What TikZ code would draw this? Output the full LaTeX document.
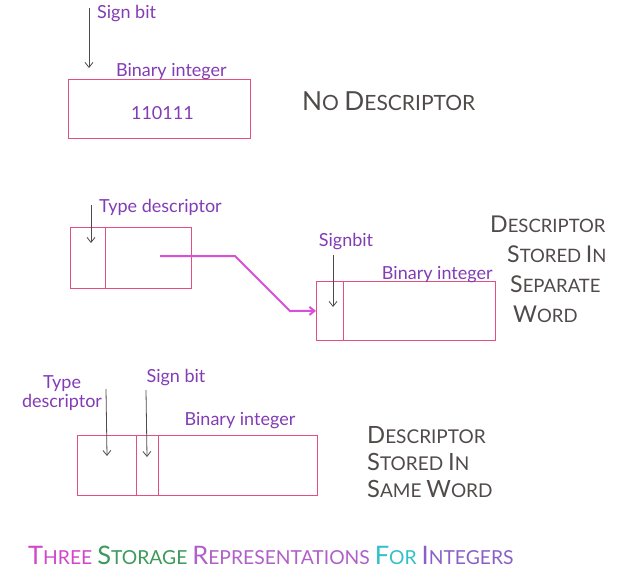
\documentclass[tikz,border=0pt]{standalone}
\usepackage{fontspec}
\setmainfont{Lato}
\usetikzlibrary{arrows.meta, positioning, calc}
\definecolor{boxpink}{RGB}{226, 80, 130}
\definecolor{penpurple}{RGB}{130, 60, 180}
\definecolor{pengray}{RGB}{80, 74, 74}
\definecolor{penmagenta}{RGB}{215, 80, 215}
\definecolor{titlemagenta}{RGB}{208, 72, 200}
\definecolor{titlegreen}{RGB}{60, 154, 90}
\definecolor{titlepurple}{RGB}{176, 96, 200}
\definecolor{titlecyan}{RGB}{48, 192, 200}
\definecolor{titleviolet}{RGB}{138, 96, 200}
\newcommand{\capword}[2]{\scalebox{1.25}{#1}#2}
\newcommand{\titleword}[2]{\scalebox{1.32}{#1}#2}

\begin{document}
\begin{tikzpicture}[x=1pt, y=-1pt,
    word/.style={draw=boxpink, line width=0.8pt, inner sep=0pt, anchor=north west},
    divider/.style={draw=boxpink, line width=0.8pt},
    lbl/.style={text=penpurple, font=\fontsize{18}{19}\selectfont, inner sep=1pt},
    note/.style={text=pengray, align=left, anchor=west, inner sep=0pt},
    ptr/.style={-{Straight Barb[length=5pt, width=8pt]}, draw=pengray, line width=0.8pt},
    link/.style={-{Straight Barb[length=5pt, width=8pt]}, draw=penmagenta, line width=2pt}
]
    \useasboundingbox (0,0) rectangle (618,581);

    % no descriptor
    \node[word, minimum width=182pt, minimum height=59pt] (plain) at (68,79) {};
    \node[text=penpurple, font=\fontsize{18}{18}\selectfont] (bits) at ($(plain.center)+(3,4)$) {110111};
    \node[lbl, above=-2pt of plain, xshift=12pt] (plainint) {Binary integer};
    \coordinate (plainsigntop) at (89,8);
    \coordinate (plainsignend) at (89,68);
    \draw[ptr] (plainsigntop) -- (plainsignend);
    \node[lbl, anchor=north west] (plainsign) at (96,4) {Sign bit};
    \node[note, font=\fontsize{21}{21}\selectfont] (nodesc) at (302,101) {\capword{N}{O} \capword{D}{ESCRIPTOR}};

    % descriptor in separate word
    \node[word, minimum width=121pt, minimum height=61pt] (descword) at (70,227) {};
    \draw[divider] ($(descword.north west)+(35,0)$) -- ($(descword.south west)+(35,0)$);
    \coordinate (desctypetop) at (91,205);
    \coordinate (desctypeend) at (91,243);
    \draw[ptr] (desctypetop) -- (desctypeend);
    \node[lbl, anchor=west] (desctype) at (98,207) {Type descriptor};

    \node[word, minimum width=179pt, minimum height=59pt] (valword) at (316,281) {};
    \draw[divider] ($(valword.north west)+(27,0)$) -- ($(valword.south west)+(27,0)$);
    \coordinate (valsigntop) at (333,255);
    \coordinate (valsignend) at (333,307);
    \draw[ptr] (valsigntop) -- (valsignend);
    \node[lbl] (valsign) at (346,242) {Signbit};
    \node[lbl, anchor=south east] (valint) at ($(valword.north east)+(-2,3)$) {Binary integer};

    \coordinate (linkstart) at (160,256);
    \draw[link] (linkstart) -- ++(75,0) -- ++(55,55) -- (valword.west);

    \node[note, anchor=north west, font=\fontsize{18.5}{30}\selectfont] (sepnote) at (490,216) {\capword{D}{ESCRIPTOR}\\
        \hspace*{17pt}\capword{S}{TORED} \capword{I}{N}\\
        \hspace*{20pt}\capword{S}{EPARATE}\\
        \hspace*{23pt}\capword{W}{ORD}};

    % descriptor in same word
    \node[word, minimum width=240pt, minimum height=60pt] (sameword) at (77,435) {};
    \draw[divider] ($(sameword.north west)+(59,0)$) -- ($(sameword.south west)+(59,0)$);
    \draw[divider] ($(sameword.north west)+(81,0)$) -- ($(sameword.south west)+(81,0)$);
    \coordinate (sametypetop) at (106,389);
    \coordinate (sametypeend) at (107,456);
    \draw[ptr] (sametypetop) -- (sametypeend);
    \node[lbl, align=center] (sametype) at (62,393) {Type\\descriptor};
    \coordinate (samesigntop) at (146,390);
    \coordinate (samesignend) at (147,457);
    \draw[ptr] (samesigntop) -- (samesignend);
    \node[lbl] (samesign) at (176,378) {Sign bit};
    \node[lbl] (sameint) at (240,421) {Binary integer};

    \node[note, anchor=north west, font=\fontsize{19}{27}\selectfont] (samenote) at (367,426) {\capword{D}{ESCRIPTOR}\\
        \capword{S}{TORED} \capword{I}{N}\\
        \capword{S}{AME} \capword{W}{ORD}};

    % caption
    \node[note, font=\fontsize{19.3}{19}\selectfont] (caption) at (28,555) {\textcolor{titlemagenta}{\titleword{T}{HREE}}
        \textcolor{titlegreen}{\titleword{S}{TORAGE}}
        \textcolor{titlepurple}{\titleword{R}{EPRESENTATIONS}}
        \textcolor{titlecyan}{\titleword{F}{OR}}
        \textcolor{titleviolet}{\titleword{I}{NTEGERS}}};
\end{tikzpicture}
\end{document}
